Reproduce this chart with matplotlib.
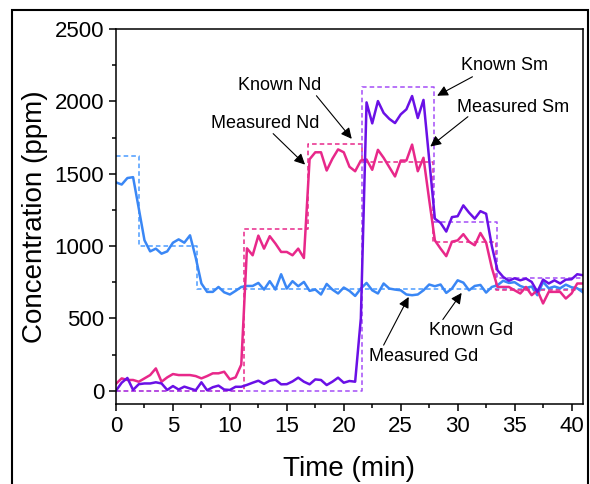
import matplotlib
matplotlib.use('Agg')
import matplotlib.pyplot as plt
from matplotlib.patches import Rectangle
from matplotlib.ticker import MultipleLocator

plt.rcParams['font.family'] = ['Liberation Sans', 'DejaVu Sans']

# sample times (min), one reading every half minute
time = [0.0, 0.5, 1.0, 1.5, 2.0, 2.5, 3.0, 3.5, 4.0, 4.5, 5.0, 5.5, 6.0, 6.5,
        7.0, 7.5, 8.0, 8.5, 9.0, 9.5, 10.0, 10.5, 11.0, 11.5, 12.0, 12.5, 13.0,
        13.5, 14.0, 14.5, 15.0, 15.5, 16.0, 16.5, 17.0, 17.5, 18.0, 18.5, 19.0,
        19.5, 20.0, 20.5, 21.0, 21.5, 22.0, 22.5, 23.0, 23.5, 24.0, 24.5, 25.0,
        25.5, 26.0, 26.5, 27.0, 27.5, 28.0, 28.5, 29.0, 29.5, 30.0, 30.5, 31.0,
        31.5, 32.0, 32.5, 33.0, 33.5, 34.0, 34.5, 35.0, 35.5, 36.0, 36.5, 37.0,
        37.5, 38.0, 38.5, 39.0, 39.5, 40.0, 40.5, 41.0]

measured_gd = [1440, 1425, 1470, 1476, 1260, 1040, 963, 982, 947, 963, 1023, 1046,
               1023, 1074, 920, 741, 683, 683, 717, 680, 665, 690, 717, 724, 724,
               745, 699, 757, 699, 805, 706, 757, 722, 752, 690, 699, 665, 738, 699,
               672, 713, 690, 655, 706, 745, 694, 672, 741, 706, 699, 694, 665, 660,
               665, 694, 734, 722, 734, 676, 706, 763, 747, 694, 724, 731, 678, 717,
               729, 760, 745, 750, 724, 710, 720, 660, 752, 708, 720, 708, 733, 715,
               708, 680]

measured_nd = [48, 85, 74, 74, 62, 85, 108, 154, 62, 92, 115, 108, 108, 108, 101,
               85, 101, 120, 120, 131, 78, 92, 180, 984, 936, 1072, 982, 1068, 1017,
               959, 959, 936, 982, 917, 1600, 1648, 1648, 1522, 1603, 1668, 1648,
               1548, 1517, 1591, 1598, 1527, 1665, 1610, 1545, 1481, 1591, 1591,
               1701, 1517, 1610, 1320, 1039, 982, 930, 1030, 1039, 1082, 1030, 1005,
               1090, 1024, 850, 717, 717, 717, 694, 672, 717, 660, 694, 603, 683,
               683, 683, 637, 672, 741, 741]

measured_sm = [0, 55, 88, 5, 45, 50, 50, 58, 50, 5, 32, 8, 28, 15, 3, 58, 3, 24, 35,
               8, 5, 27, 27, 40, 55, 69, 47, 69, 76, 44, 45, 64, 90, 62, 44, 78, 74,
               39, 62, 90, 55, 67, 62, 500, 1993, 1848, 2002, 1920, 1879, 1850, 1910,
               1945, 2037, 1885, 2010, 1600, 1189, 1160, 1100, 1200, 1206, 1281, 1231,
               1189, 1241, 1223, 1000, 832, 786, 760, 777, 763, 775, 752, 683, 768,
               741, 763, 741, 768, 770, 805, 798]

# known (spiked) concentrations as step changes
known_gd_t = [0, 2.0, 7.1, 41]
known_gd = [1620, 1000, 700, 700]
known_nd_t = [0, 11.2, 16.9, 21.6, 27.85, 33.35, 41]
known_nd = [0, 1120, 1705, 1582, 1028, 693, 693]
known_sm_t = [0, 21.6, 27.9, 33.45, 41]
known_sm = [0, 2100, 1165, 780, 780]

blue = '#3A87F5'
pink = '#E8288A'
purple = '#6A10E6'

fig = plt.figure(figsize=(5.9, 4.84), dpi=100)
ax = fig.add_axes([0.1966, 0.1653, 0.7914, 0.7747])

dash = (0, (3, 2))
ax.plot(known_gd_t, known_gd, drawstyle='steps-post', color='#4A9BFF', lw=1.1, linestyle=dash)
ax.plot(known_nd_t, known_nd, drawstyle='steps-post', color=pink, lw=1.1, linestyle=dash)
ax.plot(known_sm_t, known_sm, drawstyle='steps-post', color='#A44DF7', lw=1.1, linestyle=dash)

ax.plot(time, measured_gd, color=blue, lw=1.8)
ax.plot(time, measured_nd, color=pink, lw=1.8)
ax.plot(time, measured_sm, color=purple, lw=1.8)

ax.set_xlim(0, 41)
ax.set_ylim(-92, 2500)
ax.xaxis.set_major_locator(MultipleLocator(5))
ax.xaxis.set_minor_locator(MultipleLocator(2.5))
ax.yaxis.set_major_locator(MultipleLocator(500))
ax.yaxis.set_minor_locator(MultipleLocator(250))
ax.tick_params(which='both', direction='out', width=1.1, labelsize=16, top=False, right=False)
ax.tick_params(which='major', length=5)
ax.tick_params(which='minor', length=3)
for s in ax.spines.values():
    s.set_linewidth(1.1)

ax.set_xlabel('Time (min)', fontsize=20, labelpad=14)
ax.set_ylabel('Concentration (ppm)', fontsize=20, labelpad=5)

# labels with arrows
arrow = dict(arrowstyle='-|>', color='black', lw=0.8, mutation_scale=16, shrinkA=0, shrinkB=0)
notes = [
    ('Known Nd', (14.4, 2108), (17.6, 2039), (20.7, 1741)),
    ('Measured Nd', (13.1, 1846), (13.8, 1777), (16.6, 1563)),
    ('Known Sm', (34.1, 2246), (31.3, 2170), (28.2, 2039)),
    ('Measured Sm', (34.9, 1957), (30.9, 1894), (27.6, 1688)),
    ('Known Gd', (31.2, 419), (28.7, 492), (30.35, 676)),
    ('Measured Gd', (27.0, 239), (23.5, 315), (25.7, 648)),
]
for label, pos, tail, tip in notes:
    ax.text(pos[0], pos[1], label, fontsize=13, ha='center', va='center')
    ax.annotate('', xy=tip, xytext=tail, arrowprops=arrow)

# outer frame around the figure
fig.patches.append(Rectangle((12 / 590, -0.1), 576 / 590, 1.1 - 10 / 484,
                             transform=fig.transFigure, fill=False,
                             edgecolor='black', lw=1.5))

fig.savefig('out.png', dpi=100)
